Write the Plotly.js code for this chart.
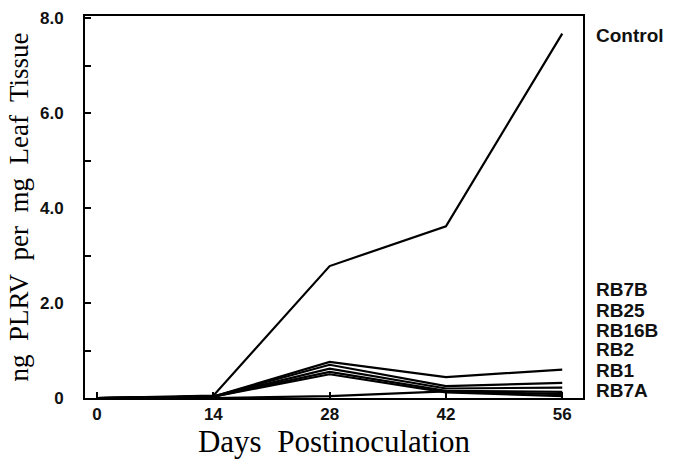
<!DOCTYPE html>
<html>
<head>
<meta charset="utf-8">
<script src="https://cdn.plot.ly/plotly-3.0.1.min.js"></script>
<style>html,body{margin:0;padding:0;background:#fff;}#chart{width:680px;height:462px;}</style>
</head>
<body>
<div id="chart"></div>
<script>
var days = [0, 14, 28, 42, 56];
var seriesNames = ["Control", "RB7B", "RB25", "RB16B", "RB2", "RB1", "RB7A"];
var control = [0, 0.05, 2.78, 3.62, 7.68];
var rb7b  = [0, 0.03, 0.76, 0.44, 0.6];
var rb25  = [0, 0.03, 0.7, 0.25, 0.32];
var rb16b = [0, 0.03, 0.62, 0.2, 0.22];
var rb2   = [0, 0.03, 0.55, 0.15, 0.13];
var rb1   = [0, 0.03, 0.5, 0.12, 0.04];
var rb7a  = [0, 0.0, 0.04, 0.14, 0.08];
var allSeries = [control, rb7b, rb25, rb16b, rb2, rb1, rb7a];
var yTickVals = [0, 1, 2, 3, 4, 5, 6, 7, 8];
var yTickText = ["0", "", "2.0", "", "4.0", "", "6.0", "", "8.0"];
var xTickVals = [0, 14, 28, 42, 56];
var xTickText = ["0", "14", "28", "42", "56"];
var labelY = [7.63, 2.29, 1.84, 1.42, 1.02, 0.58, 0.15];

var traces = allSeries.map(function (ys, i) {
  return {x: days, y: ys, name: seriesNames[i], type: "scatter", mode: "lines",
          line: {color: "#000", width: 2.2}, showlegend: false};
});

var annotations = seriesNames.map(function (n, i) {
  return {text: "<b>" + n + "</b>", xref: "paper", yref: "y", x: 1.022, y: labelY[i], xanchor: "left", yanchor: "middle",
          showarrow: false, font: {family: "Liberation Sans, Arial, sans-serif", size: 19, color: "#111"}};
});

var layout = {
  width: 680, height: 462,
  margin: {l: 85, r: 97, t: 16, b: 64},
  paper_bgcolor: "#fff", plot_bgcolor: "#fff",
  showlegend: false,
  xaxis: {
    range: [-1.45, 58.5], tickvals: xTickVals, ticktext: xTickText,
    ticks: "inside", ticklen: 6, tickwidth: 2, tickcolor: "#000",
    showline: true, mirror: true, linewidth: 2, linecolor: "#000",
    showgrid: false, zeroline: false,
    tickfont: {family: "Liberation Sans, Arial, sans-serif", size: 17, color: "#111", weight: "bold"},
    title: {text: "Days&nbsp; Postinoculation", standoff: 1,
            font: {family: "Liberation Serif, Times New Roman, serif", size: 31, color: "#000"}}
  },
  yaxis: {
    range: [0, 8.05], tickvals: yTickVals, ticktext: yTickText,
    ticks: "inside", ticklen: 6, tickwidth: 2, tickcolor: "#000",
    showline: true, mirror: true, linewidth: 2, linecolor: "#000",
    showgrid: false, zeroline: false, ticklabelstandoff: 16,
    tickfont: {family: "Liberation Sans, Arial, sans-serif", size: 17, color: "#111", weight: "bold"},
    title: {text: "ng&nbsp; PLRV&nbsp; per&nbsp; mg&nbsp; Leaf&nbsp; Tissue", standoff: 4,
            font: {family: "Liberation Serif, Times New Roman, serif", size: 27, color: "#000"}}
  },
  annotations: annotations
};

Plotly.newPlot("chart", traces, layout, {displayModeBar: false, staticPlot: true});
</script>
</body>
</html>
